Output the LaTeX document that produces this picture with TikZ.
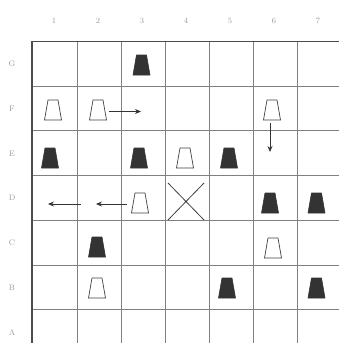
\documentclass[tikz,border=0pt]{standalone}
\usetikzlibrary{arrows.meta}
\begin{document}
\begin{tikzpicture}[x=1pt,y=-1pt,
  gridline/.style={draw=black!50,line width=0.9pt},
  border/.style={draw=black!70,line width=1.4pt},
  pics/blackpiece/.style={code={\path[fill=black!80,draw=black!80,line width=0.6pt,line join=round] (-8.5,10) -- (8.5,10) -- (5,-10) -- (-5,-10) -- cycle;}},
  pics/whitepiece/.style={code={\path[fill=white,draw=black!75,line width=0.7pt] (-8.5,10) -- (8.5,10) -- (5,-10) -- (-5,-10) -- cycle;}},
  lbl/.style={text=black!40,font=\footnotesize,inner sep=0pt},
  mv/.style={draw=black!80,line width=0.8pt,-{Stealth[length=6pt,width=5pt]}}]
\useasboundingbox (0,0) rectangle (339,343);
% grid
\foreach \x in {77,121,165,209,253,297} \draw[gridline] (\x,41.5) -- (\x,343);
\foreach \y in {86.2,130.9,175.6,220.3,265,309.7} \draw[gridline] (32,\y) -- (339,\y);
\draw[border] (339,41.5) -- (32,41.5) -- (32,343);
% labels
\foreach \c/\t in {1/1,2/2,3/3,4/4,5/5,6/6,7/7}
  \node[lbl] (col\c) at (54+44*\c-44,21) {\t};
\foreach \r/\t in {0/G,1/F,2/E,3/D,4/C,5/B,6/A}
  \node[lbl] (row\t) at (12,64+44.7*\r) {\t};
% pieces
\pic (G3) at (141.5,65) {blackpiece};
\pic (F1) at (53,110) {whitepiece};
\pic (F2) at (98,110) {whitepiece};
\pic (F6) at (272,110) {whitepiece};
\pic (E1) at (50,158) {blackpiece};
\pic (E3) at (139,158) {blackpiece};
\pic (E4) at (185,158) {whitepiece};
\pic (E5) at (229,158) {blackpiece};
\pic (D3) at (140,203) {whitepiece};
\pic (D6) at (270,203) {blackpiece};
\pic (D7) at (316.5,203) {blackpiece};
\pic (C2) at (97,247) {blackpiece};
\pic (C6) at (273,248) {whitepiece};
\pic (B2) at (97,288) {whitepiece};
\pic (B5) at (227,288) {blackpiece};
\pic (B7) at (316.5,288) {blackpiece};
% X mark
\coordinate (X1) at (168,183);
\coordinate (X2) at (204,220);
\coordinate (X3) at (204,183);
\coordinate (X4) at (168,220);
\draw[draw=black!75,line width=0.8pt] (X1) -- (X2) (X3) -- (X4);
% move arrows
\coordinate (F2e) at (109,111.5);
\coordinate (a1) at (141,111.5);
\coordinate (F6s) at (270,123);
\coordinate (a2) at (270,152);
\coordinate (D3w) at (127,204);
\coordinate (a3) at (96,204);
\coordinate (a4) at (81,204);
\coordinate (a5) at (48,204);
\draw[mv] (F2e) -- (a1);
\draw[mv] (F6s) -- (a2);
\draw[mv] (D3w) -- (a3);
\draw[mv] (a4) -- (a5);
\end{tikzpicture}
\end{document}
